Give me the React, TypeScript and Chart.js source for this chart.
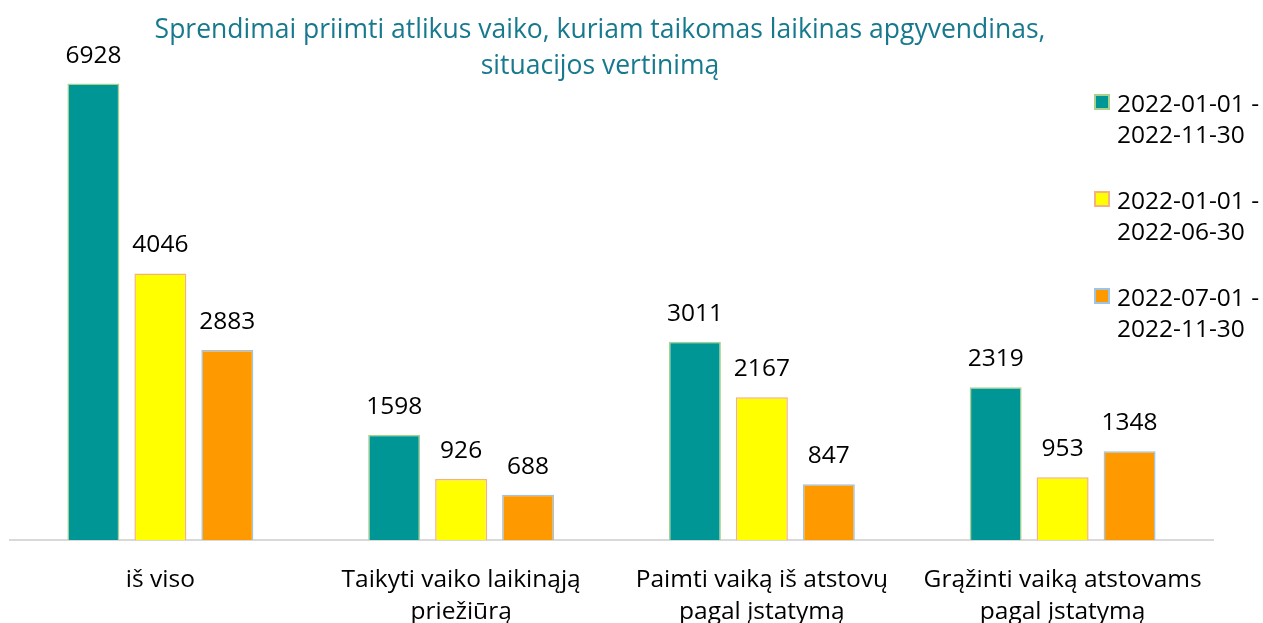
import React, { useEffect, useRef } from "react";
import { Chart, registerables } from "chart.js";

Chart.register(...registerables);

const categories: string[][] = [
  ["iš viso"],
  ["Taikyti vaiko laikinąją", "priežiūrą"],
  ["Paimti vaiką iš atstovų", "pagal įstatymą"],
  ["Grąžinti vaiką atstovams", "pagal įstatymą"],
];
const seriesLabels: string[][] = [
  ["2022-01-01 -", "2022-11-30"],
  ["2022-01-01 -", "2022-06-30"],
  ["2022-07-01 -", "2022-11-30"],
];
const fullYear = [6928, 1598, 3011, 2319];
const firstHalf = [4046, 926, 2167, 953];
const secondHalf = [2883, 688, 847, 1348];
const titleLines = [
  "Sprendimai priimti atlikus vaiko, kuriam taikomas laikinas apgyvendinas,",
  "situacijos vertinimą",
];

const fills = ["#009695", "#FFFF00", "#FF9900"];
const borders = ["#A9D18E", "#F4B183", "#9DC3E6"];
const FONT = "'Open Sans', Lato, sans-serif";

const overlayPlugin = {
  id: "overlay",
  afterDatasetsDraw(chart: any) {
    const ctx = chart.ctx;
    ctx.save();
    ctx.fillStyle = "#000000";
    ctx.font = `24.5px ${FONT}`;
    ctx.textAlign = "center";
    ctx.textBaseline = "alphabetic";
    chart.data.datasets.forEach((ds: any, i: number) => {
      const meta = chart.getDatasetMeta(i);
      meta.data.forEach((bar: any, j: number) => {
        ctx.fillText(String(ds.data[j]), bar.x, bar.y - 21);
      });
    });
    // title
    ctx.fillStyle = "#17798E";
    ctx.font = `26.5px ${FONT}`;
    ctx.textBaseline = "middle";
    titleLines.forEach((t, k) => ctx.fillText(t, 600, 30 + k * 36));
    // legend
    ctx.textAlign = "left";
    ctx.font = `24.5px ${FONT}`;
    seriesLabels.forEach((lines, i) => {
      const top = 94 + i * 97;
      ctx.fillStyle = fills[i];
      ctx.fillRect(1094, top, 16, 16);
      ctx.strokeStyle = borders[i];
      ctx.lineWidth = 2;
      ctx.strokeRect(1095, top + 1, 14, 14);
      ctx.fillStyle = "#000000";
      lines.forEach((l, k) => ctx.fillText(l, 1117, top + 11 + k * 31));
    });
    ctx.restore();
  },
};

export default function App() {
  const ref = useRef<HTMLCanvasElement | null>(null);
  useEffect(() => {
    if (!ref.current) return;
    const chart = new Chart(ref.current, {
      type: "bar",
      data: {
        labels: categories,
        datasets: [fullYear, firstHalf, secondHalf].map((d, i) => ({
          label: seriesLabels[i].join(" "),
          data: d,
          backgroundColor: fills[i],
          borderColor: borders[i],
          borderWidth: 1.5,
          categoryPercentage: 0.668,
          barPercentage: 0.776,
        })),
      },
      options: {
        animation: false,
        responsive: false,
        maintainAspectRatio: false,
        layout: { padding: { left: 10, right: 50, top: 13, bottom: 0 } },
        plugins: {
          legend: { display: false },
          title: { display: false },
          tooltip: { enabled: false },
        },
        scales: {
          x: {
            grid: { display: false, drawTicks: false },
            border: { display: true, color: "#D9D9D9", width: 2 },
            ticks: {
              color: "#000000",
              font: { family: FONT, size: 24.5, lineHeight: 1.31 },
              padding: 24,
              maxRotation: 0,
              autoSkip: false,
            },
            afterFit: (s: any) => {
              s.height = 83;
            },
          },
          y: {
            display: false,
            min: 0,
            max: 8000,
          },
        },
      },
      plugins: [overlayPlugin],
    });
    return () => chart.destroy();
  }, []);
  return (
    <div style={{ position: "absolute", left: 0, top: 0, width: 1263, height: 623, background: "#fff" }}>
      <canvas ref={ref} width={1263} height={623} style={{ display: "block" }} />
    </div>
  );
}
